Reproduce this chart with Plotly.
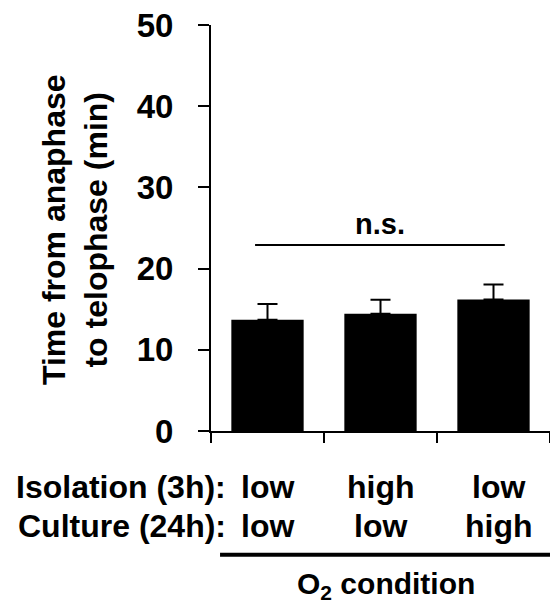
import plotly.graph_objects as go

# ---- data ----
positions = [0, 1, 2]
means = [13.7, 14.45, 16.2]
sem_up = [1.95, 1.7, 1.85]
isolation = ["low", "high", "low"]
culture = ["low", "low", "high"]
y_ticks = [0, 10, 20, 30, 40, 50]
boundaries = [-0.5, 0.5, 1.5, 2.5]
ns_level = 22.9
ns_span = [-0.11, 2.1]

FONT = "Liberation Sans, Arial, sans-serif"

fig = go.Figure()
fig.add_trace(go.Bar(
    x=positions, y=means, width=0.64,
    marker=dict(color="black", line=dict(width=0)),
    error_y=dict(type="data", symmetric=False, array=sem_up,
                 arrayminus=[0, 0, 0], color="black", thickness=2, width=10),
    showlegend=False,
))

fig.update_layout(
    width=550, height=603,
    margin=dict(l=211, r=0, t=25, b=172),
    plot_bgcolor="white", paper_bgcolor="white",
    font=dict(family=FONT, color="black", size=32, weight="bold"),
)
fig.update_xaxes(
    range=[-0.5, 2.5], tickvals=boundaries, ticktext=["", "", "", ""],
    ticks="outside", ticklen=10, tickwidth=2, tickcolor="black",
    showline=True, linecolor="black", linewidth=2, showgrid=False,
    zeroline=False,
)
fig.update_yaxes(
    range=[0, 50], tickvals=y_ticks, ticks="outside", ticklen=11,
    tickwidth=2, tickcolor="black", showline=True, linecolor="black",
    linewidth=2, showgrid=False, zeroline=False,
    tickfont=dict(family=FONT, size=33, weight="bold", color="black"),
    ticklabelstandoff=18,
)

# significance bracket
fig.add_shape(type="line", xref="x", yref="y", x0=ns_span[0], x1=ns_span[1],
              y0=ns_level, y1=ns_level, line=dict(color="black", width=2))
fig.add_annotation(x=sum(ns_span) / 2, y=ns_level, xref="x", yref="y",
                   text="n.s.", showarrow=False, yanchor="bottom", yshift=3,
                   font=dict(family=FONT, size=29, weight="bold"))

# y title
fig.add_annotation(x=-0.401, y=0.495, xref="paper", yref="paper",
                   text="Time from anaphase<br>to telophase (min)",
                   textangle=-90, showarrow=False, xanchor="center",
                   yanchor="middle",
                   font=dict(family=FONT, size=32, weight="bold"))

# category rows
row_y = [-0.138, -0.234]
col_shift = [0, 0, 5]
for lab, vals, yy in [("Isolation (3h):", isolation, row_y[0]),
                      ("Culture (24h):", culture, row_y[1])]:
    fig.add_annotation(x=0.05, y=yy, xref="paper", yref="paper", text=lab,
                       showarrow=False, xanchor="right", yanchor="middle",
                       font=dict(family=FONT, size=32, weight="bold"))
    for p, v, s in zip(positions, vals, col_shift):
        fig.add_annotation(x=p, y=yy, xref="x", yref="paper", text=v,
                           showarrow=False, xanchor="center", yanchor="middle",
                           xshift=s,
                           font=dict(family=FONT, size=32, weight="bold"))

fig.add_shape(type="line", xref="x", yref="paper", x0=-0.42, x1=2.5,
              y0=-0.305, y1=-0.305, line=dict(color="black", width=4))
fig.add_annotation(x=1.05, y=-0.33, xref="x", yref="paper",
                   text="O<sub>2</sub> condition", showarrow=False,
                   xanchor="center", yanchor="top",
                   font=dict(family=FONT, size=30, weight="bold"))

fig.write_html("out.html")
